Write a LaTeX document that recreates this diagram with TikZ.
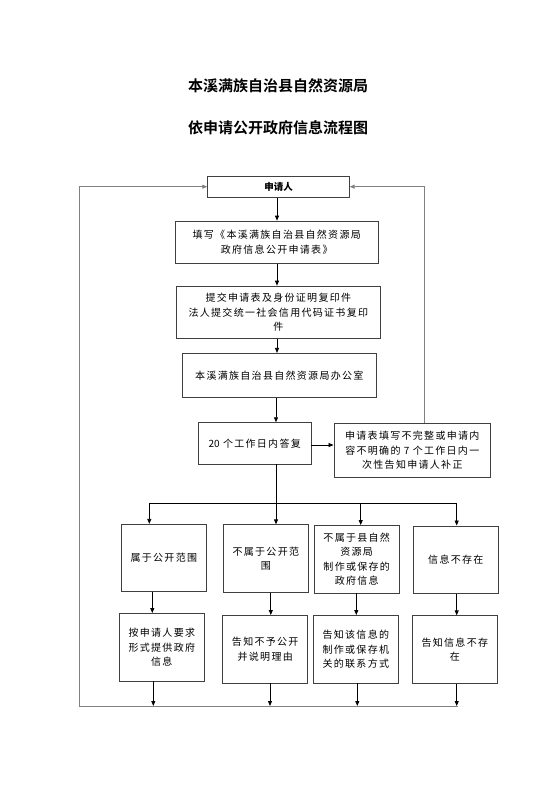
\documentclass[tikz,border=0pt]{standalone}
\usepackage{fontspec}
\newfontfamily\boxfont{Noto Sans CJK SC}[LetterSpace=13]
\newfontfamily\headfont{Noto Sans CJK SC Bold}
\newfontfamily\plainfont{Noto Sans CJK SC}
\usetikzlibrary{arrows.meta}
\begin{document}
\begin{tikzpicture}[x=1pt, y=-1pt,
                    >={Triangle[length=5pt,width=4pt]},
                    line width=0.8pt,
                    font=\boxfont\fontsize{10}{14.5}\selectfont]
    \tikzstyle{box}=[draw=black!75, align=center, inner sep=1pt, minimum height=67.5pt, text width=83pt, minimum width=85pt]
    \tikzstyle{wide}=[box, text width=190pt, minimum width=204pt, minimum height=44pt]
    \tikzstyle{arr}=[->, black]
    \tikzstyle{loop}=[->, draw=black!50]

    \useasboundingbox (0,0) rectangle (554,785);

    \node[font=\headfont\fontsize{15}{15}\selectfont] (t1) at (278,86) {本溪满族自治县自然资源局};
    \node[font=\headfont\fontsize{15}{15}\selectfont] (t2) at (278,128) {依申请公开政府信息流程图};

    \node[wide, minimum width=141.6pt, text width=130pt, minimum height=21.3pt,
          font=\plainfont\bfseries\fontsize{9.5}{10}\selectfont] (app) at (278.5,186.7) {申请人};
    \node[wide, minimum width=203.3pt, minimum height=42.3pt] (form) at (276.7,242.2)
        {填写《本溪满族自治县自然资源局\\政府信息公开申请表》};
    \node[wide, minimum width=204.7pt, minimum height=52.3pt] (sub) at (278.3,312.2)
        {提交申请表及身份证明复印件\\法人提交统一社会信用代码证书复印\\件};
    \node[wide, minimum width=193.3pt] (office) at (279.3,375.3) {本溪满族自治县自然资源局办公室};
    \node[wide, minimum width=112.7pt, text width=105pt, minimum height=41.3pt] (reply) at (254.7,443.3) {{\plainfont 20} 个工作日内答复};
    \node[wide, minimum width=156.7pt, text width=150pt, minimum height=54.4pt] (supp) at (412.3,450.5)
        {申请表填写不完整或申请内\\容不明确的 7 个工作日内一\\次性告知申请人补正};

    \node[box, minimum width=85.7pt] (a1) at (163.8,558) {属于公开范围};
    \node[box] (a2) at (265.8,558.5) {不属于公开范\\围};
    \node[box, minimum width=85.3pt] (a3) at (356.7,559.2) {不属于县自然\\资源局\\制作或保存的\\政府信息};
    \node[box] (a4) at (455.8,559.7) {信息不存在};

    \node[box] (b1) at (161.8,647.2) {按申请人要求\\形式提供政府\\信息};
    \node[box] (b2) at (265.2,649.2) {告知不予公开\\并说明理由};
    \node[box] (b3) at (355.8,649.2) {告知该信息的\\制作或保存机\\关的联系方式};
    \node[box] (b4) at (454.8,649.5) {告知信息不存\\在};

    \coordinate (hub) at (276,503.3);
    \coordinate (busl) at (149.3,503.3);
    \coordinate (busr) at (456.7,503.3);
    \coordinate (bus3) at (360.7,503.3);
    \coordinate (endl) at (79,706);
    \coordinate (endr) at (458,706);

    \draw[arr] (app.south -| 277,0) -- (form.north -| 277,0);
    \draw[arr] (form.south -| 277,0) -- (sub.north -| 277,0);
    \draw[arr] (sub.south -| 277,0) -- (office.north -| 277,0);
    \draw[arr] (office.south -| hub) -- (reply.north -| hub);
    \draw[arr] (reply.east |- 0,445) -- (supp.west |- 0,445);

    \draw (reply.south -| hub) -- (hub);
    \draw[arr] (hub) -- (hub |- a2.north);
    \draw (busl) -- (busr);
    \draw[arr] (busl) -- (busl |- a1.north);
    \draw[arr] (bus3) -- (bus3 |- a3.north);
    \draw[arr] (busr) -- (busr |- a4.north);

    \draw[arr] ([xshift=-11.5pt]a1.south) -- ([xshift=-11.5pt]a1.south |- b1.north);
    \draw[arr] ([xshift=5pt]a2.south) -- ([xshift=5pt]a2.south |- b2.north);
    \draw[arr] ([xshift=-0.4pt]a3.south) -- ([xshift=-0.4pt]a3.south |- b3.north);
    \draw[arr] ([xshift=0.9pt]a4.south) -- ([xshift=0.9pt]a4.south |- b4.north);

    \draw[arr] ([xshift=-8.5pt]b1.south) -- ([xshift=-8.5pt]b1.south |- endl);
    \draw[arr] ([xshift=4.8pt]b2.south) -- ([xshift=4.8pt]b2.south |- endl);
    \draw[arr] ([xshift=1.5pt]b3.south) -- ([xshift=1.5pt]b3.south |- endl);
    \draw[arr] ([xshift=1.9pt]b4.south) -- ([xshift=1.9pt]b4.south |- endl);

    \draw[loop] (endr) -- (endl) -- (endl |- app.west) -- (app.west);
    \draw[loop] ([xshift=12pt]supp.north) -- ([xshift=12pt]supp.north |- app.east) -- (app.east);
\end{tikzpicture}
\end{document}
